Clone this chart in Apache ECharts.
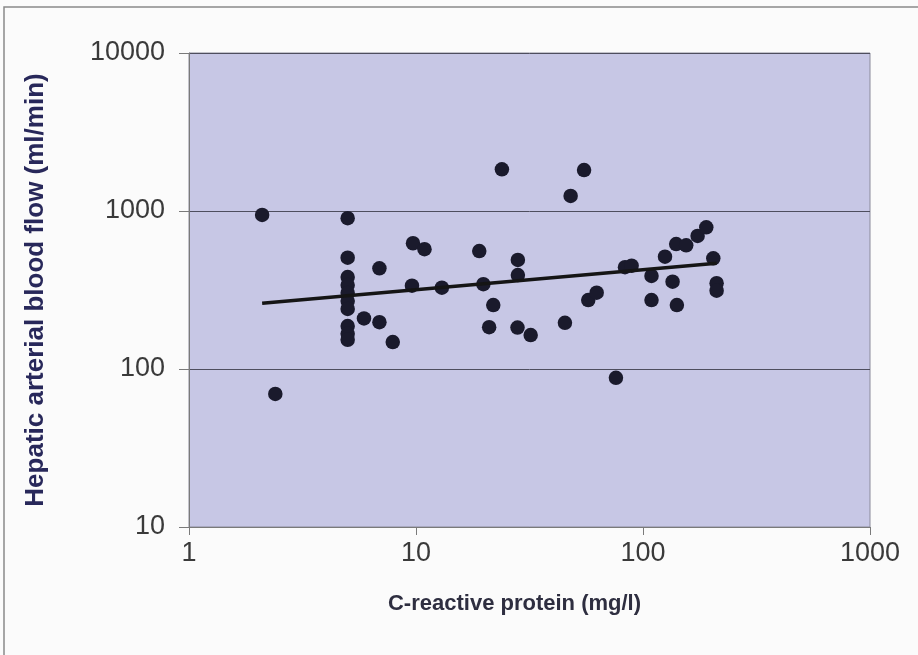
<!DOCTYPE html>
<html>
<head>
<meta charset="utf-8">
<title>Hepatic arterial blood flow vs C-reactive protein</title>
<script src="https://cdn.jsdelivr.net/npm/echarts@6/dist/echarts.min.js"></script>
<style>
  html, body { margin: 0; padding: 0; background: #fbfbfb; }
  #chart { width: 918px; height: 655px; }
</style>
</head>
<body>
<div id="chart"></div>
<script>
// C-reactive protein (mg/l) for each patient
const crp = [2.1, 2.4, 5, 5, 5, 5, 5, 5, 5, 5, 5, 5, 5.9, 6.9, 6.9, 7.9, 9.7, 10.9, 9.6, 13,
  19, 19.8, 21.9, 21, 23.9, 28.1, 28.1, 28, 32, 45.3, 48, 55, 57.4, 62.5, 76, 83.3, 89.1,
  109, 109, 125, 135, 141, 140, 155, 174, 190, 204, 211, 211];
// Hepatic arterial blood flow (ml/min), same order as crp
const flow = [944, 69.5, 900, 506, 382, 340, 303, 269, 240, 187, 167, 153, 209, 434, 198, 148, 625, 573, 337, 327,
  558, 344, 254, 184, 1837, 490, 393, 183, 164, 196, 1245, 1816, 273, 304, 88, 441, 451,
  388, 273, 514, 357, 254, 618, 607, 695, 789, 502, 349, 313];
// Power-law trend line end points
const trendX = [2.1, 211];
const trendY = [261, 467];
// Axis decades
const xTicks = [1, 10, 100, 1000];
const yTicks = [10, 100, 1000, 10000];

const points = crp.map((x, i) => [x, flow[i]]);
const trend = trendX.map((x, i) => [x, trendY[i]]);

const font = "'Liberation Sans', Arial, sans-serif";
const plain = v => String(Math.round(v));
const chart = echarts.init(document.getElementById('chart'), null, { renderer: 'canvas' });

chart.setOption({
  backgroundColor: '#fbfbfb',
  animation: false,
  graphic: [{
    type: 'rect',
    shape: { x: 4, y: 7, width: 930, height: 670 },
    style: { fill: 'none', stroke: '#8a8a8a', lineWidth: 1.5 },
    silent: true
  }],
  grid: {
    left: 189, top: 53, width: 681, height: 474,
    show: true,
    backgroundColor: '#c7c7e5',
    borderColor: '#8a8a9a',
    borderWidth: 1
  },
  xAxis: {
    type: 'log',
    logBase: 10,
    min: xTicks[0],
    max: xTicks[xTicks.length - 1],
    name: 'C-reactive protein (mg/l)',
    nameLocation: 'middle',
    nameGap: 66,
    nameTextStyle: { fontFamily: font, fontSize: 22, fontWeight: 'bold', color: '#2e2e40', padding: [0, 30, 0, 0] },
    axisLine: { show: true, lineStyle: { color: '#7a7a7a', width: 1 } },
    axisTick: { show: true, length: 8, lineStyle: { color: '#7a7a7a' } },
    axisLabel: { fontFamily: font, fontSize: 27, color: '#3a3a3a', margin: 13, formatter: plain },
    splitLine: { show: false },
    minorTick: { show: false }
  },
  yAxis: {
    type: 'log',
    logBase: 10,
    min: yTicks[0],
    max: yTicks[yTicks.length - 1],
    name: 'Hepatic arterial blood flow (ml/min)',
    nameLocation: 'middle',
    nameRotate: 90,
    nameGap: 140,
    nameTextStyle: { fontFamily: font, fontSize: 26, fontWeight: 'bold', color: '#28285a' },
    axisLine: { show: true, lineStyle: { color: '#7a7a7a', width: 1 } },
    axisTick: { show: true, length: 10, lineStyle: { color: '#7a7a7a' } },
    axisLabel: { fontFamily: font, fontSize: 27, color: '#3a3a3a', margin: 24, formatter: plain },
    splitLine: { show: true, lineStyle: { color: '#4e4e5e', width: 1 } },
    minorTick: { show: false }
  },
  series: [
    {
      type: 'scatter',
      data: points,
      symbol: 'circle',
      symbolSize: 14.5,
      itemStyle: { color: '#1a1a2c', opacity: 1 },
      z: 3
    },
    {
      type: 'line',
      data: trend,
      symbol: 'none',
      lineStyle: { color: '#151515', width: 3.5 },
      z: 4
    }
  ]
});
</script>
</body>
</html>
